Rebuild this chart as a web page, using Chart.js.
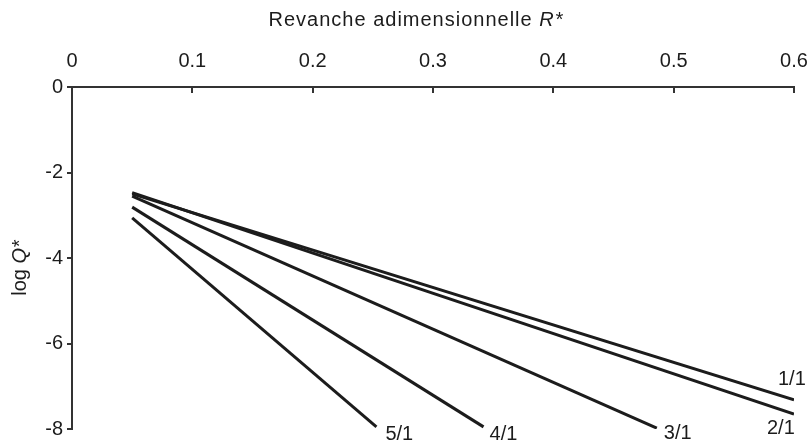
<!DOCTYPE html>
<html><head><meta charset="utf-8">
<script src="https://cdn.jsdelivr.net/npm/chart.js@4/dist/chart.umd.min.js"></script>
<style>html,body{margin:0;padding:0;background:#fff}#wrap{width:812px;height:447px;position:relative}</style>
</head><body><div id="wrap"><canvas id="c" width="812" height="447"></canvas></div>
<script>
const ratios = ['1/1', '2/1', '3/1', '4/1', '5/1'];
const startR = [0.05, 0.05, 0.05, 0.05, 0.05];
const startLogQ = [-2.50, -2.47, -2.55, -2.81, -3.06];
const endR = [0.60, 0.60, 0.486, 0.342, 0.253];
const endLogQ = [-7.32, -7.65, -7.98, -7.95, -7.95];
const xTicks = [0, 0.1, 0.2, 0.3, 0.4, 0.5, 0.6];
const yTicks = [0, -2, -4, -6, -8];

const FONT = "'Liberation Sans', Arial, sans-serif";
const INK = '#1c1c1c';
const AXIS = '#333333';

// label offsets from line end (layout only)
const labelOffsets = {
  '1/1': {dx: -16, dy: -20, align: 'left'},
  '2/1': {dx: -27, dy: 14, align: 'left'},
  '3/1': {dx: 7, dy: 5, align: 'left'},
  '4/1': {dx: 6, dy: 8, align: 'left'},
  '5/1': {dx: 9, dy: 8, align: 'left'}
};

const datasets = ratios.map((name, i) => ({
  label: name,
  data: [{x: startR[i], y: startLogQ[i]}, {x: endR[i], y: endLogQ[i]}],
  borderColor: INK,
  borderWidth: 3,
  pointRadius: 0,
  tension: 0,
  borderCapStyle: 'butt'
}));

const decor = {
  id: 'decor',
  afterDraw(chart) {
    const ctx = chart.ctx;
    const ca = chart.chartArea;
    const xs = chart.scales.x;
    ctx.save();
    // inward ticks on top axis
    ctx.strokeStyle = AXIS;
    ctx.lineWidth = 2;
    xTicks.forEach(v => {
      const px = Math.round(xs.getPixelForValue(v));
      ctx.beginPath();
      ctx.moveTo(px, ca.top);
      ctx.lineTo(px, ca.top + 6);
      ctx.stroke();
    });
    // series labels
    ctx.fillStyle = INK;
    ctx.font = '20px ' + FONT;
    ctx.textBaseline = 'middle';
    chart.data.datasets.forEach((ds, i) => {
      const meta = chart.getDatasetMeta(i);
      const pt = meta.data[meta.data.length - 1];
      const o = labelOffsets[ds.label];
      ctx.textAlign = o.align;
      ctx.fillText(ds.label, pt.x + o.dx, pt.y + o.dy);
    });
    // x axis title
    ctx.textAlign = 'left';
    ctx.textBaseline = 'middle';
    try { ctx.letterSpacing = '1px'; } catch (e) {}
    const t1 = 'Revanche adimensionnelle ';
    ctx.font = '20px ' + FONT;
    const w1 = ctx.measureText(t1).width;
    ctx.font = 'italic 20px ' + FONT;
    const w2 = ctx.measureText('R*').width;
    const cx = 416;
    let sx = cx - (w1 + w2) / 2;
    ctx.font = '20px ' + FONT;
    ctx.fillText(t1, sx, 20);
    ctx.font = 'italic 20px ' + FONT;
    ctx.fillText('R*', sx + w1, 20);
    try { ctx.letterSpacing = '0px'; } catch (e) {}
    // y axis title
    ctx.save();
    ctx.translate(20, 268);
    ctx.rotate(-Math.PI / 2);
    ctx.font = '20px ' + FONT;
    const a = ctx.measureText('log ').width;
    ctx.font = 'italic 20px ' + FONT;
    const b = ctx.measureText('Q*').width;
    let sy = -(a + b) / 2;
    ctx.font = '20px ' + FONT;
    ctx.fillText('log ', sy, 0);
    ctx.font = 'italic 20px ' + FONT;
    ctx.fillText('Q*', sy + a, 0);
    ctx.restore();
    ctx.restore();
  }
};

new Chart(document.getElementById('c'), {
  type: 'line',
  data: {datasets},
  options: {
    responsive: false,
    animation: false,
    devicePixelRatio: 1,
    layout: {padding: {left: 0, top: 0, right: 18, bottom: 18}},
    plugins: {legend: {display: false}, tooltip: {enabled: false}},
    scales: {
      x: {
        type: 'linear',
        position: 'top',
        min: 0, max: 0.6,
        afterBuildTicks: s => { s.ticks = xTicks.map(v => ({value: v})); },
        afterFit: s => { s.height = 87; s.paddingLeft = 0; s.paddingRight = 0; },
        grid: {display: true, drawOnChartArea: false, drawTicks: false},
        border: {display: true, color: AXIS, width: 2},
        ticks: {color: INK, font: {family: FONT, size: 20}, padding: 14, maxRotation: 0,
          callback: v => String(v)}
      },
      y: {
        type: 'linear',
        min: -8, max: 0,
        afterBuildTicks: s => { s.ticks = yTicks.map(v => ({value: v})); },
        afterFit: s => { s.width = 72; s.paddingTop = 0; s.paddingBottom = 0; },
        grid: {display: true, drawOnChartArea: false, drawTicks: true, tickLength: 5, color: AXIS, lineWidth: 2},
        border: {display: true, color: AXIS, width: 2},
        ticks: {color: INK, font: {family: FONT, size: 20}, padding: 4,
          callback: v => String(v)}
      }
    }
  },
  plugins: [decor]
});
</script>
</body></html>
